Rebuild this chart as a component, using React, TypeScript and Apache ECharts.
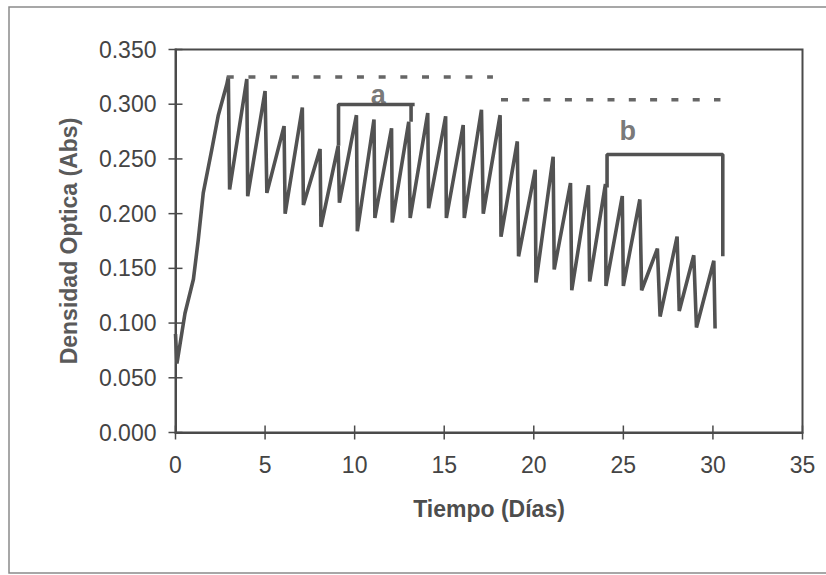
import React, { useEffect, useRef } from "react";
import * as echarts from "echarts";

// Tiempo (días) de la curva
const dias: number[] = [
  0, 0.08, 0.53, 1.0, 1.27, 1.55, 2.02, 2.39, 2.86, 2.95,
  3.02, 3.98, 4.03, 5.0, 5.1, 6.06, 6.12, 7.08, 7.14, 8.07,
  8.12, 9.08, 9.15, 10.1, 10.15, 11.08, 11.13, 12.06, 12.1, 13.02,
  13.1, 14.08, 14.13, 15.08, 15.12, 16.06, 16.12, 17.08, 17.18, 18.12,
  18.17, 19.08, 19.15, 20.08, 20.12, 21.08, 21.14, 22.05, 22.12, 23.05,
  23.12, 24.0, 24.03, 24.94, 25.0, 25.92, 26.02, 26.9, 27.05, 28.0,
  28.12, 28.93, 29.08, 30.05, 30.12,
];
// Densidad óptica (Abs)
const densidad: number[] = [
  0.09, 0.063, 0.109, 0.14, 0.176, 0.219, 0.258, 0.29, 0.318, 0.325,
  0.222, 0.323, 0.216, 0.312, 0.219, 0.28, 0.2, 0.297, 0.208, 0.259,
  0.188, 0.262, 0.21, 0.29, 0.184, 0.286, 0.196, 0.278, 0.192, 0.284,
  0.196, 0.292, 0.205, 0.289, 0.196, 0.281, 0.196, 0.295, 0.2, 0.29,
  0.179, 0.266, 0.161, 0.24, 0.137, 0.252, 0.149, 0.228, 0.13, 0.226,
  0.138, 0.227, 0.134, 0.216, 0.134, 0.213, 0.13, 0.168, 0.106, 0.179,
  0.111, 0.162, 0.096, 0.157, 0.095,
];

// Líneas punteadas de referencia
const punteada1: number[][] = [[2.86, 0.3248], [17.72, 0.3248]];
const punteada2: number[][] = [[18.17, 0.304], [30.42, 0.304]];

// Corchetes a y b
const corcheteA: number[][] = [[9.1, 0.262], [9.1, 0.2997], [13.35, 0.2997]];
const corcheteA2: number[][] = [[13.15, 0.2997], [13.15, 0.284]];
const corcheteB: number[][] = [[24.09, 0.224], [24.09, 0.254], [30.55, 0.254], [30.55, 0.161]];

const etiquetas = [
  { name: "a", value: [11.32, 0.3085] },
  { name: "b", value: [25.24, 0.2755] },
];

// Marcas de los ejes
const xTickValues: number[] = [0, 5, 10, 15, 20, 25, 30, 35];
const yTickValues: number[] = [0, 0.05, 0.1, 0.15, 0.2, 0.25, 0.3, 0.35];

const xTicks = { min: 0, max: 35, interval: 5 };
const yTicks = { min: 0, max: 0.35, interval: 0.05 };

export default function App() {
  const ref = useRef<HTMLDivElement>(null);
  useEffect(() => {
    if (!ref.current) return;
    const chart = echarts.init(ref.current, undefined, { renderer: "svg" });
    const font = "'Liberation Sans', Arial, sans-serif";
    const axisColor = "#4a4a4a";
    const curveColor = "#525252";
    const curve = dias.map((d, i) => [d, densidad[i]]);
    const lineSeries = (data: number[][], extra: any = {}) => ({
      type: "line",
      data,
      symbol: "none",
      silent: true,
      lineStyle: { color: curveColor, width: 3.6, ...extra },
      z: 3,
    });
    const tickSeries = (vals: number[], horizontal: boolean) => ({
      type: "custom",
      silent: true,
      clip: false,
      z: 5,
      data: vals.map((v) => (horizontal ? [v, 0] : [0, v])),
      renderItem: (_params: any, api: any) => {
        const p = api.coord([api.value(0), api.value(1)]);
        const shape = horizontal
          ? { x1: p[0], y1: p[1] - 7, x2: p[0], y2: p[1] + 7 }
          : { x1: p[0] - 7, y1: p[1], x2: p[0] + 7, y2: p[1] };
        return {
          type: "line",
          shape,
          style: { stroke: axisColor, lineWidth: 1.5 },
        };
      },
    });
    chart.setOption({
      animation: false,
      backgroundColor: "#ffffff",
      graphic: [
        {
          type: "rect",
          shape: { x: 9, y: 7, width: 840, height: 566 },
          style: { fill: "none", stroke: "#8a8a8a", lineWidth: 1.5 },
          silent: true,
        },
      ],
      grid: {
        left: 175.5,
        right: 23.5,
        top: 49.5,
        bottom: 142.5,
        show: true,
        borderColor: axisColor,
        borderWidth: 2,
      },
      xAxis: {
        type: "value",
        ...xTicks,
        name: "Tiempo (Días)",
        nameLocation: "middle",
        nameGap: 65,
        nameTextStyle: { fontFamily: font, fontSize: 23, fontWeight: "bold", color: "#4d4d4d" },
        axisLine: { show: true, onZero: false, lineStyle: { color: axisColor, width: 2 } },
        axisTick: { show: false },
        axisLabel: { margin: 21, fontFamily: font, fontSize: 23, color: "#444" },
        splitLine: { show: false },
      },
      yAxis: {
        type: "value",
        ...yTicks,
        name: "Densidad Optica (Abs)",
        nameLocation: "middle",
        nameGap: 95,
        nameRotate: 90,
        nameTextStyle: { fontFamily: font, fontSize: 23, fontWeight: "bold", color: "#5a5a5a" },
        axisLine: { show: true, onZero: false, lineStyle: { color: axisColor, width: 2 } },
        axisTick: { show: false },
        axisLabel: {
          margin: 19,
          fontFamily: font,
          fontSize: 23,
          color: "#444",
          formatter: (v: number) => v.toFixed(3),
        },
        splitLine: { show: false },
      },
      series: [
        lineSeries(curve),
        lineSeries(punteada1, { type: [7, 14.7], color: "#666", width: 3.5, cap: "butt" }),
        lineSeries(punteada2, { type: [7, 14.3], color: "#666", width: 3.5, cap: "butt" }),
        lineSeries(corcheteA),
        lineSeries(corcheteA2),
        lineSeries(corcheteB),
        {
          type: "scatter",
          data: etiquetas,
          symbolSize: 1,
          itemStyle: { color: "rgba(0,0,0,0)" },
          silent: true,
          label: {
            show: true,
            position: "inside",
            formatter: "{b}",
            fontFamily: font,
            fontSize: 27,
            fontWeight: "bold",
            color: "#555",
          },
          z: 4,
        },
        tickSeries(xTickValues, true),
        tickSeries(yTickValues, false),
      ],
    });
    return () => chart.dispose();
  }, []);
  return (
    <div
      ref={ref}
      style={{ position: "fixed", left: 0, top: 0, width: 826, height: 575, background: "#fff" }}
    />
  );
}
